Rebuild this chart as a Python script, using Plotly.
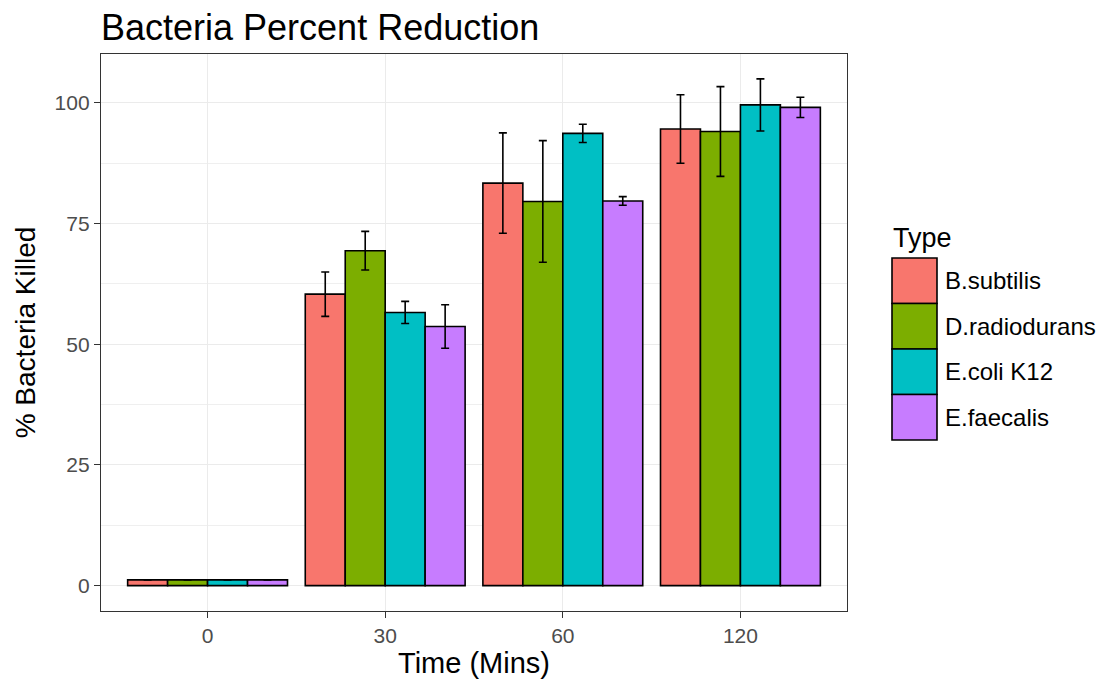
import plotly.graph_objects as go

# ---- data ----
times = ["0", "30", "60", "120"]
types = ["B.subtilis", "D.radiodurans", "E.coli K12", "E.faecalis"]
colors = ["#F8766D", "#7CAE00", "#00BFC4", "#C77CFF"]

b_subtilis = [1.2, 60.4, 83.4, 94.6]
d_radiodurans = [1.2, 69.4, 79.6, 94.1]
e_coli = [1.2, 56.6, 93.7, 99.6]
e_faecalis = [1.2, 53.7, 79.7, 99.1]

b_subtilis_err = [0, 4.6, 10.4, 7.1]
d_radiodurans_err = [0, 4.0, 12.6, 9.3]
e_coli_err = [0, 2.3, 1.9, 5.4]
e_faecalis_err = [0, 4.5, 0.9, 2.1]

values = [b_subtilis, d_radiodurans, e_coli, e_faecalis]
errors = [b_subtilis_err, d_radiodurans_err, e_coli_err, e_faecalis_err]

FONT = "Liberation Sans, Arial, sans-serif"
W, H = 1107, 692
L, R, T, B = 101, 847, 54, 611  # panel box in pixels

fig = go.Figure()
for name, v, e, c in zip(types, values, errors, colors):
    fig.add_trace(go.Bar(
        x=times, y=v, name=name,
        marker=dict(color=c, line=dict(color="black", width=1.6)),
        error_y=dict(type="data", array=e, visible=True, color="black",
                     thickness=1.6, width=4),
        showlegend=False,
    ))

def px2x(px):
    return (px - L) / (R - L)

def py2y(py):
    return (B - py) / (B - T)

shapes = []
annotations = []
# manual legend (ggplot-like large keys)
key_x0, key_x1 = 892, 937
key_top, key_h = 258, 45.5
annotations.append(dict(text="Type", xref="paper", yref="paper",
                        x=px2x(891), y=py2y(238), xanchor="left", yanchor="middle",
                        showarrow=False, font=dict(family=FONT, size=27, color="black")))
for i, (name, c) in enumerate(zip(types, colors)):
    y0 = key_top + i * key_h
    y1 = y0 + key_h
    shapes.append(dict(type="rect", xref="paper", yref="paper",
                       x0=px2x(key_x0), x1=px2x(key_x1), y0=py2y(y1), y1=py2y(y0),
                       fillcolor=c, line=dict(color="black", width=1.6)))
    annotations.append(dict(text=name, xref="paper", yref="paper",
                            x=px2x(943), y=py2y((y0 + y1) / 2), xanchor="left", yanchor="middle",
                            showarrow=False, font=dict(family=FONT, size=24, color="black")))

fig.update_layout(
    width=W, height=H,
    margin=dict(l=L, r=W - R, t=T, b=H - B, pad=0),
    paper_bgcolor="white", plot_bgcolor="white",
    barmode="group", bargap=0.1, bargroupgap=0,
    font=dict(family=FONT, color="black"),
    title=dict(text="Bacteria Percent Reduction", x=px2x(101), xref="paper", xanchor="left",
               y=1 - 27 / H, yref="container", yanchor="middle",
               font=dict(family=FONT, size=36, color="black")),
    shapes=shapes,
    annotations=annotations,
    xaxis=dict(
        type="category", range=[-0.6, 3.6],
        showgrid=True, gridcolor="#EBEBEB", gridwidth=1.2,
        showline=True, mirror=True, linecolor="#333333", linewidth=1.3,
        ticks="outside", ticklen=6, tickcolor="#333333", tickwidth=1.2,
        tickfont=dict(family=FONT, size=21, color="#4D4D4D"),
        title=dict(text="Time (Mins)", font=dict(family=FONT, size=29, color="black"), standoff=6),
        zeroline=False,
    ),
    yaxis=dict(
        range=[-5.25, 110.15],
        tickvals=[0, 25, 50, 75, 100],
        showgrid=True, gridcolor="#EBEBEB", gridwidth=1.2,
        minor=dict(dtick=12.5, tick0=0, showgrid=True, gridcolor="#EFEFEF", gridwidth=0.8),
        showline=True, mirror=True, linecolor="#333333", linewidth=1.3,
        ticks="outside", ticklen=6, tickcolor="#333333", tickwidth=1.2,
        tickfont=dict(family=FONT, size=21, color="#4D4D4D"),
        title=dict(text="% Bacteria Killed", font=dict(family=FONT, size=28, color="black"), standoff=10),
        zeroline=False,
    ),
)

fig.write_html("out.html")
